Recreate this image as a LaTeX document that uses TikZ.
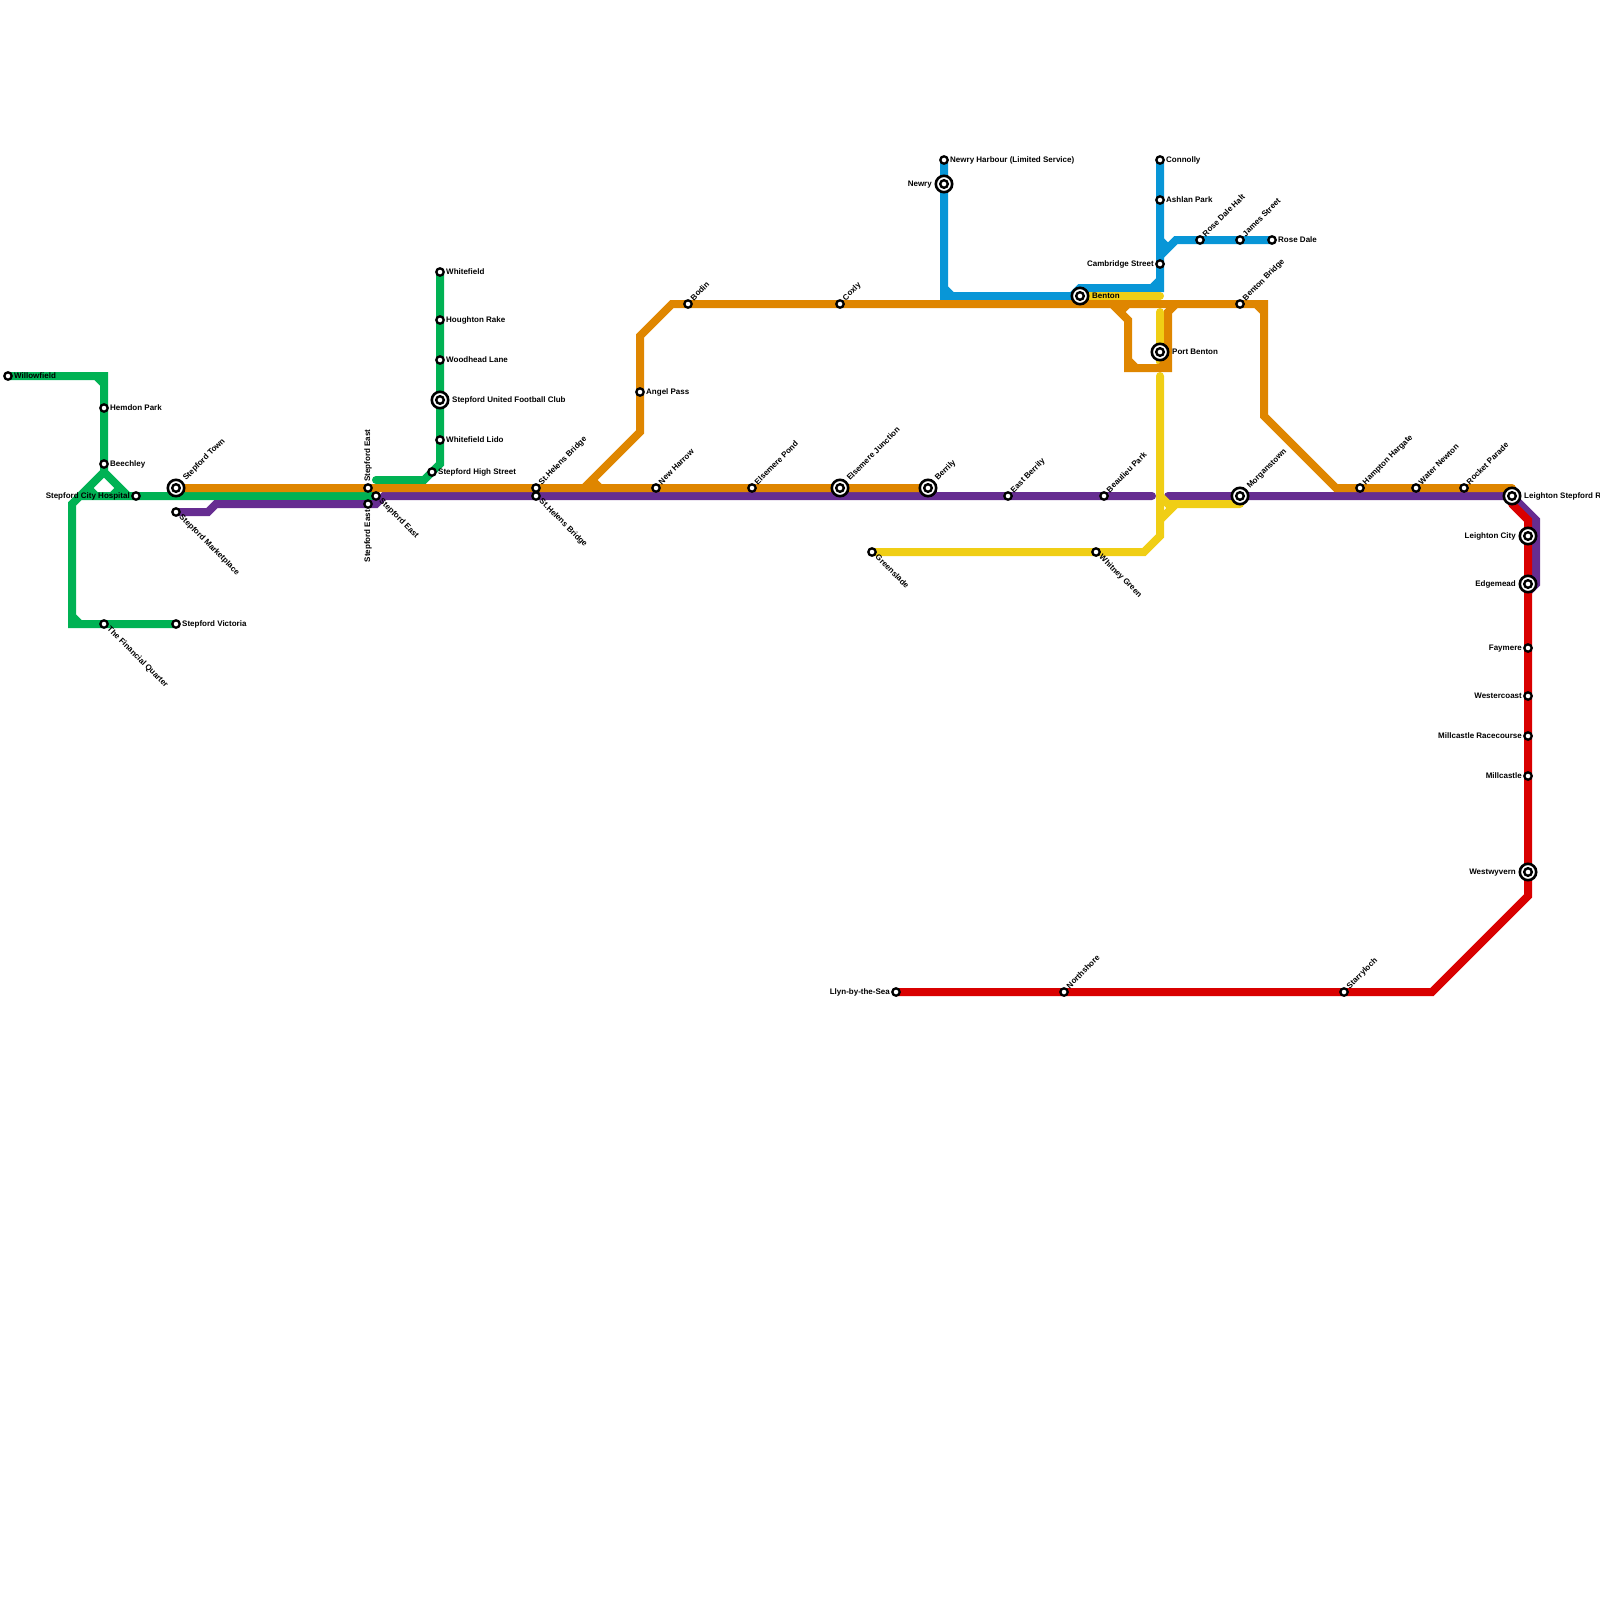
\documentclass[tikz,border=0pt]{standalone}
\usepackage{fontspec}
\setmainfont{Liberation Sans}
\usetikzlibrary{backgrounds}
\definecolor{greenln}{RGB}{0,178,84}
\definecolor{orangeln}{RGB}{223,134,0}
\definecolor{purpleln}{RGB}{102,45,145}
\definecolor{blueln}{RGB}{8,150,215}
\definecolor{yellowln}{RGB}{240,206,21}
\definecolor{redln}{RGB}{217,0,0}
\tikzset{
  ln/.style={line width=8pt, line cap=round, line join=miter},
  stn/.style={circle, draw=black, fill=white, line width=2.3pt, minimum size=7.4pt, inner sep=0pt},
  intch/.style={circle, draw=black, fill=white, line width=2.6pt, minimum size=16.4pt, inner sep=0pt,
                path picture={\draw[line width=2.4pt] (path picture bounding box.center) circle (3.8pt);}},
  lbl/.style={inner sep=0pt, font=\bfseries\fontsize{8}{9}\selectfont},
  lblE/.style={lbl, anchor=base west, xshift=6pt, yshift=-2pt},
  lblW/.style={lbl, anchor=base east, xshift=-6pt, yshift=-2pt},
  lblEE/.style={lbl, anchor=base west, xshift=12pt, yshift=-2pt},
  lblWW/.style={lbl, anchor=base east, xshift=-12pt, yshift=-2pt},
  lblNE/.style={lbl, anchor=base west, xshift=5.66pt, yshift=2.83pt, rotate=45},
  lblNEE/.style={lbl, anchor=base west, xshift=9.9pt, yshift=7.07pt, rotate=45},
  lblSE/.style={lbl, anchor=base west, xshift=2.83pt, yshift=-5.66pt, rotate=-45},
  lblN/.style={lbl, anchor=base west, xshift=2pt, yshift=6pt, rotate=90},
  lblS/.style={lbl, anchor=base east, xshift=2pt, yshift=-6pt, rotate=90},
}
\begin{document}
\begin{tikzpicture}[x=1pt,y=-1pt]
  \useasboundingbox (0,0) rectangle (1600,1600);
  % green
  \node[stn] (willowfield) at (8,376) {}; \node[lblE] (tWillowfield) at (willowfield) {Willowfield};
  \node[stn] (hemdon) at (104,408) {}; \node[lblE] (tHemdon) at (hemdon) {Hemdon Park};
  \node[stn] (beechley) at (104,464) {}; \node[lblE] (tBeechley) at (beechley) {Beechley};
  \node[stn] (cityhospital) at (136,496) {}; \node[lblW] (tCityhospital) at (cityhospital) {Stepford City Hospital};
  \node[stn] (finquarter) at (104,624) {}; \node[lblSE] (tFinquarter) at (finquarter) {The Financial Quarter};
  \node[stn] (victoria) at (176,624) {}; \node[lblE] (tVictoria) at (victoria) {Stepford Victoria};
  \node[stn] (whitefield) at (440,272) {}; \node[lblE] (tWhitefield) at (whitefield) {Whitefield};
  \node[stn] (houghton) at (440,320) {}; \node[lblE] (tHoughton) at (houghton) {Houghton Rake};
  \node[stn] (woodhead) at (440,360) {}; \node[lblE] (tWoodhead) at (woodhead) {Woodhead Lane};
  \node[intch] (united) at (440,400) {}; \node[lblEE] (tUnited) at (united) {Stepford United Football Club};
  \node[stn] (lido) at (440,440) {}; \node[lblE] (tLido) at (lido) {Whitefield Lido};
  \node[stn] (highst) at (432,472) {}; \node[lblE] (tHighst) at (highst) {Stepford High Street};
  % shared trunk
  \node[intch] (town) at (176,488) {}; \node[lblNEE] (tTown) at (town) {Stepford Town};
  \node[stn] (marketplace) at (176,512) {}; \node[lblSE] (tMarketplace) at (marketplace) {Stepford Marketplace};
  \node[stn] (eastN) at (368,488) {}; \node[lblN] (tEastN) at (eastN) {Stepford East};
  \node[stn] (eastS) at (368,504) {}; \node[lblS] (tEastS) at (eastS) {Stepford East};
  \node[stn] (eastE) at (376,496) {}; \node[lblSE] (tEastE) at (eastE) {Stepford East};
  \node[stn] (helensN) at (536,488) {}; \node[lblNE] (tHelensN) at (helensN) {St.Helens Bridge};
  \node[stn] (helensS) at (536,496) {}; \node[lblSE] (tHelensS) at (helensS) {St.Helens Bridge};
  \node[stn] (newharrow) at (656,488) {}; \node[lblNE] (tNewharrow) at (newharrow) {New Harrow};
  \node[stn] (pond) at (752,488) {}; \node[lblNE] (tPond) at (pond) {Elsemere Pond};
  \node[intch] (junction) at (840,488) {}; \node[lblNEE] (tJunction) at (junction) {Elsemere Junction};
  \node[intch] (berrily) at (928,488) {}; \node[lblNEE] (tBerrily) at (berrily) {Berrily};
  \node[stn] (eastberrily) at (1008,496) {}; \node[lblNE] (tEastberrily) at (eastberrily) {East Berrily};
  \node[stn] (beaulieu) at (1104,496) {}; \node[lblNE] (tBeaulieu) at (beaulieu) {Beaulieu Park};
  \node[intch] (morganstown) at (1240,496) {}; \node[lblNEE] (tMorganstown) at (morganstown) {Morganstown};
  \node[stn] (hampton) at (1360,488) {}; \node[lblNE] (tHampton) at (hampton) {Hampton Hargate};
  \node[stn] (waternewton) at (1416,488) {}; \node[lblNE] (tWaternewton) at (waternewton) {Water Newton};
  \node[stn] (rocket) at (1464,488) {}; \node[lblNE] (tRocket) at (rocket) {Rocket Parade};
  \node[intch] (leightonrd) at (1512,496) {}; \node[lblEE] (tLeightonrd) at (leightonrd) {Leighton Stepford R};
  % orange top
  \node[stn] (angelpass) at (640,392) {}; \node[lblE] (tAngelpass) at (angelpass) {Angel Pass};
  \node[stn] (bodin) at (688,304) {}; \node[lblNE] (tBodin) at (bodin) {Bodin};
  \node[stn] (coxly) at (840,304) {}; \node[lblNE] (tCoxly) at (coxly) {Coxly};
  \node[stn] (bentonbridge) at (1240,304) {}; \node[lblNE] (tBentonbridge) at (bentonbridge) {Benton Bridge};
  \node[intch] (portbenton) at (1160,352) {}; \node[lblEE] (tPortbenton) at (portbenton) {Port Benton};
  % blue
  \node[stn] (harbour) at (944,160) {}; \node[lblE] (tHarbour) at (harbour) {Newry Harbour (Limited Service)};
  \node[intch] (newry) at (944,184) {}; \node[lblWW] (tNewry) at (newry) {Newry};
  \node[intch] (benton) at (1080,296) {}; \node[lblEE] (tBenton) at (benton) {Benton};
  \node[stn] (connolly) at (1160,160) {}; \node[lblE] (tConnolly) at (connolly) {Connolly};
  \node[stn] (ashlan) at (1160,200) {}; \node[lblE] (tAshlan) at (ashlan) {Ashlan Park};
  \node[stn] (cambridge) at (1160,264) {}; \node[lblW] (tCambridge) at (cambridge) {Cambridge Street};
  \node[stn] (halt) at (1200,240) {}; \node[lblNE] (tHalt) at (halt) {Rose Dale Halt};
  \node[stn] (james) at (1240,240) {}; \node[lblNE] (tJames) at (james) {James Street};
  \node[stn] (rosedale) at (1272,240) {}; \node[lblE] (tRosedale) at (rosedale) {Rose Dale};
  % yellow
  \node[stn] (greenslade) at (872,552) {}; \node[lblSE] (tGreenslade) at (greenslade) {Greenslade};
  \node[stn] (whitney) at (1096,552) {}; \node[lblSE] (tWhitney) at (whitney) {Whitney Green};
  % red
  \node[intch] (leightoncity) at (1528,536) {}; \node[lblWW] (tLeightoncity) at (leightoncity) {Leighton City};
  \node[intch] (edgemead) at (1528,584) {}; \node[lblWW] (tEdgemead) at (edgemead) {Edgemead};
  \node[stn] (faymere) at (1528,648) {}; \node[lblW] (tFaymere) at (faymere) {Faymere};
  \node[stn] (westercoast) at (1528,696) {}; \node[lblW] (tWestercoast) at (westercoast) {Westercoast};
  \node[stn] (racecourse) at (1528,736) {}; \node[lblW] (tRacecourse) at (racecourse) {Millcastle Racecourse};
  \node[stn] (millcastle) at (1528,776) {}; \node[lblW] (tMillcastle) at (millcastle) {Millcastle};
  \node[intch] (westwyvern) at (1528,872) {}; \node[lblWW] (tWestwyvern) at (westwyvern) {Westwyvern};
  \node[stn] (starryloch) at (1344,992) {}; \node[lblNE] (tStarryloch) at (starryloch) {Starryloch};
  \node[stn] (northshore) at (1064,992) {}; \node[lblNE] (tNorthshore) at (northshore) {Northshore};
  \node[stn] (llyn) at (896,992) {}; \node[lblW] (tLlyn) at (llyn) {Llyn-by-the-Sea};

  \begin{scope}[on background layer]
    \draw[ln, greenln] (willowfield.center) -- (104,376) -- (beechley.center) -- (104,472) -- (72,504) -- (72,624) -- (victoria.center)
      (96,376) -- (104,384) (72,616) -- (80,624)
      (104,472) -- (128,496) (80,496) -- (eastE.center)
      (88,488) -- (96,496) (120,488) -- (112,496);
    \draw[ln, greenln] (whitefield.center) -- (440,464) -- (424,480) -- (376,480);
    \draw[ln, blueln] (harbour.center) -- (944,296) -- (benton.center) (944,288) -- (952,296);
    \draw[ln, blueln] (1072,296) -- (1080,288) -- (1160,288) -- (connolly.center) (1152,288) -- (1160,280);
    \draw[ln, blueln] (1160,256) -- (1176,240) -- (rosedale.center) (1160,240) -- (1168,248);
    \draw[ln, purpleln] (marketplace.center) -- (208,512) -- (216,504) -- (376,504) -- (384,496) -- (1152,496);
    \draw[ln, purpleln] (1168,496) -- (leightonrd.center) -- (1536,520) -- (1536,584) -- (1528,592);
    \draw[ln, yellowln] (benton.center) -- (1160,296) (1160,312) -- (1160,362);
    \draw[ln, yellowln] (greenslade.center) -- (1144,552) -- (1160,536) -- (1160,376);
    \draw[ln, yellowln] (1160,520) -- (1176,504) (1160,496) -- (1168,504) -- (morganstown.center |- 1168,504);
    \draw[ln, orangeln] (town.center) -- (berrily.center) (592,480) -- (600,488);
    \draw[ln, orangeln] (584,488) -- (640,432) -- (640,336) -- (672,304) -- (1264,304) -- (1264,416) -- (1336,488) -- (1512,488)
      (1256,304) -- (1264,312);
    \draw[ln, orangeln] (1112,304) -- (1128,320) -- (1128,368) -- (1168,368) -- (1168,312) -- (1176,304)
      (1128,304) -- (1120,312) (1128,360) -- (1136,368) (1160,368) -- (1168,360);
    \draw[ln, redln] (1512,504) -- (1528,520) -- (1528,896) -- (1432,992) -- (llyn.center);
  \end{scope}
\end{tikzpicture}
\end{document}
